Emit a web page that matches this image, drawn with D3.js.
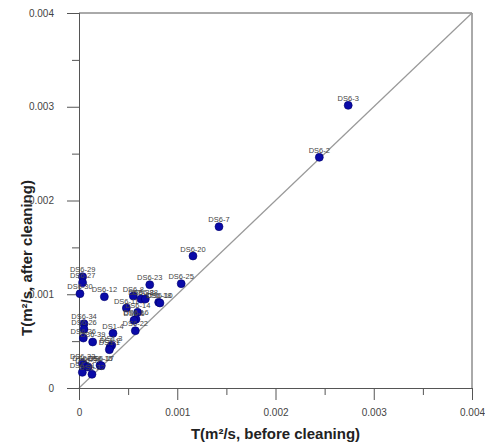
<!DOCTYPE html>
<html lang="en">
<head>
	<meta charset="utf-8"/>
	<title>Transmissivity before / after cleaning</title>
	<script src="https://d3js.org/d3.v7.min.js"></script>
	<style>
	body { margin: 0; background: #fff; }
	.axis path, .axis line { stroke: #555; }
	.axis text { fill: #444; font-family: "Liberation Sans", Arial, sans-serif; font-size: 10px; }
	.ptlabel { fill: #444; font-family: "Liberation Sans", Arial, sans-serif; font-size: 7.5px; }
	.title { font-family: "Liberation Sans", Arial, sans-serif; font-weight: bold; font-size: 15px; fill: #222; }
	</style>
</head>
<body>
<svg id="chart" width="485" height="443"></svg>
<script>
// well names and T values (m2/s)
var names = ["DS6-3","DS6-2","DS6-7","DS6-20","DS6-25","DS6-23","DS6-29","DS6-27","DS6-30","DS6-12",
	"DS6-8","DS6-38","DS6-28","DS6-18","DS6-10","DS6-11","DS6-14","DS6-16","DS6-6","DS6-22",
	"DS1-4","DS6-34","DS6-26","DS6-36","DS6-39","DS1-3","DS1-2","DS1-1","DS6-33","DS6-35",
	"DS6-37","DS6-31","DS6-32","DS6-15","DS6-17"];
var before = [0.00274,0.002446,0.001425,0.00116,0.00104,0.00072,0.000037,0.000037,0.00001,0.000258,
	0.000553,0.000631,0.000675,0.000811,0.000824,0.000482,0.000597,0.00058,0.00056,0.000573,
	0.000346,0.000051,0.000051,0.000044,0.000139,0.000333,0.000316,0.000309,0.000037,0.000061,
	0.000092,0.000034,0.000132,0.000214,0.000227];
var after = [0.003015,0.002461,0.001721,0.001408,0.001113,0.001102,0.001187,0.001123,0.001006,0.000974,
	0.000981,0.000949,0.000949,0.000914,0.000907,0.000853,0.000807,0.000733,0.000722,0.000611,
	0.000583,0.000686,0.000626,0.000533,0.000491,0.000455,0.000434,0.000409,0.000263,0.000238,
	0.000224,0.000167,0.000146,0.000242,0.000238];
var majorTicks = [0, 0.001, 0.002, 0.003, 0.004];
var minorTicks = [0.0005, 0.0015, 0.0025, 0.0035];

var svg = d3.select("#chart"),
	margin = {top: 13, right: 13, bottom: 55, left: 79},
	width = +svg.attr("width") - margin.left - margin.right,
	height = +svg.attr("height") - margin.top - margin.bottom,
	g = svg.append("g").attr("transform", "translate(" + margin.left + "," + margin.top + ")");

var x = d3.scaleLinear().domain([0, 0.004]).range([0, width]);
var y = d3.scaleLinear().domain([0, 0.004]).range([height, 0]);

// frame (top and right)
g.append("path")
	.attr("d", "M0,0H" + width + "V" + height)
	.attr("fill", "none")
	.attr("stroke", "#555");

// 1:1 line
g.append("line")
	.attr("x1", x(0)).attr("y1", y(0))
	.attr("x2", x(0.004)).attr("y2", y(0.004))
	.attr("stroke", "#999")
	.attr("stroke-width", 1.2);

// minor ticks
g.append("g")
	.attr("class", "axis")
	.attr("transform", "translate(0," + height + ")")
	.call(d3.axisBottom(x).tickValues(minorTicks).tickSize(7).tickFormat(""));
g.append("g")
	.attr("class", "axis")
	.call(d3.axisLeft(y).tickValues(minorTicks).tickSize(7).tickFormat(""));

// major ticks
g.append("g")
	.attr("class", "axis")
	.attr("transform", "translate(0," + height + ")")
	.call(d3.axisBottom(x).tickValues(majorTicks).tickSize(12).tickPadding(9).tickSizeOuter(0)
		.tickFormat(function(d) { return d === 0 ? "0" : d3.format(".3f")(d); }));
g.append("g")
	.attr("class", "axis")
	.call(d3.axisLeft(y).tickValues(majorTicks).tickSize(12).tickPadding(13).tickSizeOuter(0)
		.tickFormat(function(d) { return d === 0 ? "0" : d3.format(".3f")(d); }));

var pts = names.map(function(n, i) { return {name: n, b: before[i], a: after[i]}; });

g.append("g")
	.selectAll("circle")
	.data(pts)
	.enter().append("circle")
	.attr("cx", function(d) { return x(d.b); })
	.attr("cy", function(d) { return y(d.a); })
	.attr("r", 4)
	.attr("fill", "#0a0aa8")
	.attr("stroke", "#00006a")
	.attr("stroke-width", 0.6);

g.append("g")
	.selectAll("text")
	.data(pts)
	.enter().append("text")
	.attr("class", "ptlabel")
	.attr("x", function(d) { return x(d.b); })
	.attr("y", function(d) { return y(d.a) - 4.5; })
	.attr("text-anchor", "middle")
	.text(function(d) { return d.name; });

// axis titles
svg.append("text")
	.attr("class", "title")
	.attr("x", margin.left + width / 2)
	.attr("y", 439)
	.attr("text-anchor", "middle")
	.text("T(m\u00b2/s, before cleaning)");
svg.append("text")
	.attr("class", "title")
	.attr("transform", "translate(32,258) rotate(-90)")
	.attr("text-anchor", "middle")
	.text("T(m\u00b2/s, after cleaning)");
</script>
</body>
</html>
